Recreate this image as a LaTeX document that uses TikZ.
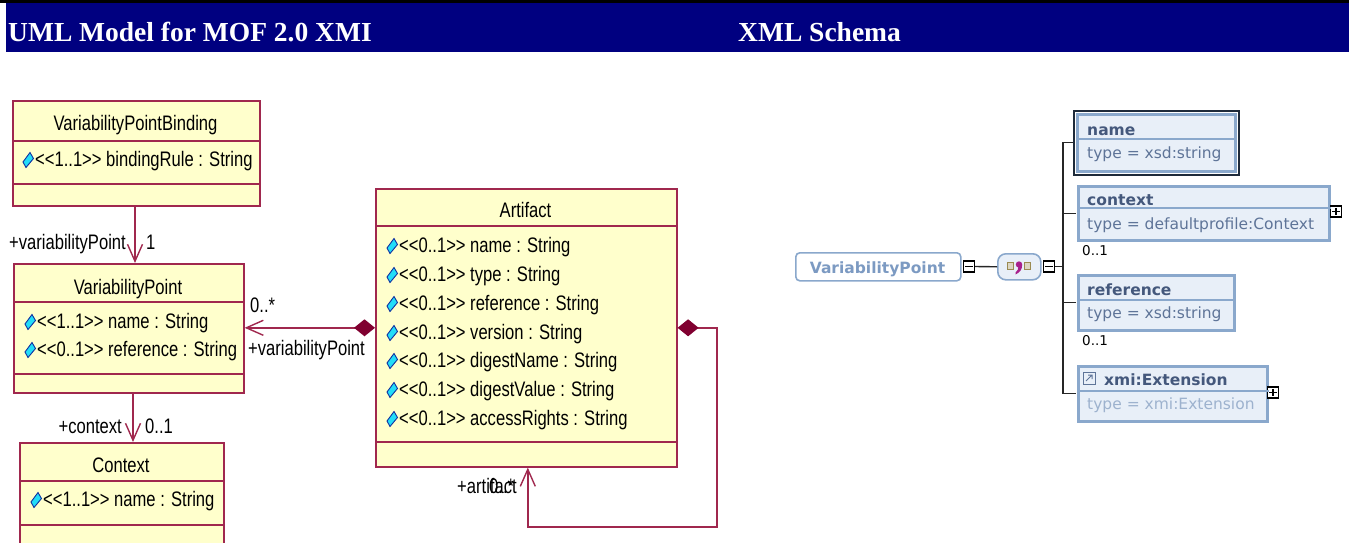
\documentclass[tikz,border=0pt]{standalone}
\usepackage{fontspec}
\usetikzlibrary{arrows.meta}
\newfontfamily\umlf[FakeStretch=0.79]{Liberation Sans}
\newfontfamily\hdrf{Liberation Serif}
\newfontfamily\xsdf{DejaVu Sans}
\definecolor{navyhdr}{HTML}{000080}
\definecolor{umlfill}{HTML}{FFFFCC}
\definecolor{umlline}{HTML}{A0284E}
\definecolor{umldia}{HTML}{800030}
\definecolor{icofill}{HTML}{22DDF8}
\definecolor{icoline}{HTML}{1030A0}
\definecolor{xsdline}{HTML}{8AA8CC}
\definecolor{xsdfill}{HTML}{E8EFF8}
\definecolor{xsddark}{HTML}{1E2A3A}
\definecolor{xsdtext}{HTML}{44587C}
\definecolor{xsdtype}{HTML}{5E7498}
\definecolor{xsdlight}{HTML}{9DB2CE}
\definecolor{vptext}{HTML}{7C9AC2}
\definecolor{seqolive}{HTML}{9A8A50}
\definecolor{seqmag}{HTML}{A8208C}
\tikzset{
  classbox/.style={draw=umlline, fill=umlfill, line width=1.6pt, anchor=north west, inner sep=0pt},
  utext/.style={font=\umlf\fontsize{21}{24}\selectfont, text=black, inner sep=0pt, anchor=base},
  uattr/.style={utext, anchor=base west},
  udiv/.style={draw=umlline, line width=1.6pt},
  uconn/.style={draw=umlline, line width=1.4pt},
  barb/.tip={Straight Barb[length=17pt,width=15pt,line width=1.4pt]},
  cdia/.tip={Diamond[length=21pt,width=17pt,fill=umldia,color=umldia]},
  attricon/.pic={\filldraw[fill=icofill, draw=icoline, line width=0.9pt] (-5,1.5) -- (2,-8) -- (5.5,-2) -- (-2,7) -- cycle;},
  xbox/.style={draw=xsdline, fill=xsdfill, line width=2.5pt, anchor=north west, inner sep=0pt},
  xdiv/.style={draw=xsdline, line width=1.5pt},
  xtitle/.style={font=\xsdf\bfseries\fontsize{15.5}{18}\selectfont, text=xsdtext, inner sep=0pt, anchor=base west},
  xtype/.style={font=\xsdf\fontsize{15.5}{18}\selectfont, text=xsdtype, inner sep=0pt, anchor=base west},
  xmult/.style={font=\xsdf\fontsize{13.5}{16}\selectfont, text=black, inner sep=0pt, anchor=base west},
  xconn/.style={draw=black!85, line width=1.4pt},
  pmbox/.style={draw=black, fill=white, line width=1.1pt, minimum size=11pt, inner sep=0pt},
  hdr/.style={font=\hdrf\bfseries\fontsize{27.5}{30}\selectfont, text=white, inner sep=0pt, anchor=base west}
}
\newcommand\uattrrow[3]{\node[uattr] (#1) at (#2) {#3}; \pic at ([shift={(-7,-5.5)}]#1.base west) {attricon};}
\begin{document}
\begin{tikzpicture}[x=1pt,y=-1pt]
\useasboundingbox (0,0) rectangle (1354,543);
\clip (0,0) rectangle (1354,543);
% header
\fill[black] (0,0.5) rectangle (1349,3.5);
\fill[navyhdr] (6,3.5) rectangle (1349,52);
\node[hdr] (h1) at (8,42) {UML Model for MOF 2.0 XMI};
\node[hdr] (h2) at (738,42) {XML Schema};

% ===== UML =====
\node[classbox, minimum width=247pt, minimum height=105pt] (vpb) at (12,100) {};
\node[classbox, minimum width=230pt, minimum height=129pt] (vp) at (13,263) {};
\node[classbox, minimum width=204pt, minimum height=130pt] (ctx) at (19,442) {};
\node[classbox, minimum width=301pt, minimum height=278pt] (art) at (375,188) {};

\draw[uconn, -barb] (vpb.south -| 135,0) -- (vp.north -| 135,0);
\draw[uconn, -barb] (vp.south -| 133,0) -- (ctx.north -| 133,0);
\draw[uconn, barb-cdia] (vp.east |- art.west) -- (art.west);
\coordinate (sa1) at (717,527);
\draw[uconn, cdia-barb] (art.east) -| (sa1) -| ([xshift=1.5pt]art.south);

% VariabilityPointBinding
\draw[udiv] (vpb.west |- 0,141) -- (vpb.east |- 0,141);
\draw[udiv] (vpb.west |- 0,184) -- (vpb.east |- 0,184);
\node[utext] (vpbt) at (135.5,130) {VariabilityPointBinding};
\uattrrow{vpba}{35,166}{{<}{<}1..1{>}{>} bindingRule : String}

% VariabilityPoint
\draw[udiv] (vp.west |- 0,302) -- (vp.east |- 0,302);
\draw[udiv] (vp.west |- 0,374) -- (vp.east |- 0,374);
\node[utext] (vpt) at (128,294) {VariabilityPoint};
\uattrrow{vpa1}{37,328}{{<}{<}1..1{>}{>} name : String}
\uattrrow{vpa2}{37,356}{{<}{<}0..1{>}{>} reference : String}

% Context
\draw[udiv] (ctx.west |- 0,481) -- (ctx.east |- 0,481);
\draw[udiv] (ctx.west |- 0,525) -- (ctx.east |- 0,525);
\node[utext] (ctxt) at (121,472) {Context};
\uattrrow{ctxa}{43,506}{{<}{<}1..1{>}{>} name : String}

% Artifact
\draw[udiv] (art.west |- 0,226) -- (art.east |- 0,226);
\draw[udiv] (art.west |- 0,442) -- (art.east |- 0,442);
\node[utext] (artt) at (525.5,217) {Artifact};
\uattrrow{arta1}{399,252}{{<}{<}0..1{>}{>} name : String}
\uattrrow{arta2}{399,281}{{<}{<}0..1{>}{>} type : String}
\uattrrow{arta3}{399,310}{{<}{<}0..1{>}{>} reference : String}
\uattrrow{arta4}{399,339}{{<}{<}0..1{>}{>} version : String}
\uattrrow{arta5}{399,367}{{<}{<}0..1{>}{>} digestName : String}
\uattrrow{arta6}{399,396}{{<}{<}0..1{>}{>} digestValue : String}
\uattrrow{arta7}{399,425}{{<}{<}0..1{>}{>} accessRights : String}

% association labels
\node[utext, anchor=base east] (l1) at (126,249) {+variabilityPoint};
\node[utext, anchor=base west] (l2) at (146,249) {1};
\node[utext, anchor=base east] (l3) at (122,433) {+context};
\node[utext, anchor=base west] (l4) at (145,433) {0..1};
\node[utext, anchor=base west] (l5) at (250,312) {0..*};
\node[utext, anchor=base west] (l6) at (248,355) {+variabilityPoint};
\node[utext, anchor=base west] (l7) at (457,493) {+artifact};
\node[utext, anchor=base west] (l8) at (489,493) {0..*};

% ===== XML Schema =====
\node[draw=xsdline, fill=white, line width=1.6pt, rounded corners=4pt, minimum width=165pt, minimum height=28pt, anchor=north west, inner sep=0pt] (xvp) at (795,252) {};
\node[font=\xsdf\bfseries\fontsize{15.5}{18}\selectfont, text=vptext, inner sep=0pt, anchor=base] (xvpt) at (877.5,273) {VariabilityPoint};
\node[pmbox] (m1) at (969,266.5) {};
\node[draw=xsdline, fill=xsdfill, line width=1.6pt, rounded corners=8pt, minimum width=43pt, minimum height=26pt, anchor=north west, inner sep=0pt] (seq) at (997,253) {};
\node[pmbox] (m2) at (1049,266.5) {};
\coordinate (trunk) at (1063,266.5);

\node[xbox, minimum width=158pt, minimum height=57pt] (xname) at (1076,113) {};
\node[xbox, minimum width=251pt, minimum height=54pt] (xctx) at (1077,185) {};
\node[xbox, minimum width=156pt, minimum height=55pt] (xref) at (1077,274) {};
\node[xbox, minimum width=189pt, minimum height=55pt] (xext) at (1077,365) {};

\draw[xconn] (m1.east) -- (seq.west);
\draw[xconn] (m2.east) -- (trunk);
\draw[xconn] ([xshift=-1pt]xname.west) -| (trunk) |- ([xshift=-1pt]xext.west);
\draw[xconn] ([xshift=-1pt]xctx.west) -- (xctx.west -| trunk);
\draw[xconn] ([xshift=-1pt]xref.west) -- (xref.west -| trunk);

% minus / plus glyphs
\draw[line width=1.1pt] ([xshift=2.5pt]m1.west) -- ([xshift=-2.5pt]m1.east);
\draw[line width=1.1pt] ([xshift=2.5pt]m2.west) -- ([xshift=-2.5pt]m2.east);
\node[pmbox] (p1) at (1336,211.5) {};
\draw[line width=1.1pt] ([xshift=2.5pt]p1.west) -- ([xshift=-2.5pt]p1.east);
\draw[line width=1.1pt] ([yshift=-2.5pt]p1.north) -- ([yshift=2.5pt]p1.south);
\node[pmbox] (p2) at (1273,392.5) {};
\draw[line width=1.1pt] ([xshift=2.5pt]p2.west) -- ([xshift=-2.5pt]p2.east);
\draw[line width=1.1pt] ([yshift=-2.5pt]p2.north) -- ([yshift=2.5pt]p2.south);

% sequence symbol
\filldraw[draw=seqolive, fill=seqolive!35, line width=1pt] (1007.5,262.5) rectangle (1013.5,269.5);
\filldraw[draw=seqolive, fill=seqolive!35, line width=1pt] (1024,262.5) rectangle (1030,269.5);
\fill[seqmag] (1019,264.5) circle (3.2pt);
\fill[seqmag] (1022.2,264.5) .. controls (1022.2,270) and (1019.5,272.5) .. (1015.5,274.5) -- (1015.5,272.5) .. controls (1017.5,271) and (1018.5,269) .. (1018.5,266) -- cycle;

% name box (selected)
\draw[xsddark, line width=2pt] ([shift={(-2,-2)}]xname.north west) rectangle ([shift={(2,2)}]xname.south east);
\draw[xdiv] (xname.west |- 0,139) -- (xname.east |- 0,139);
\node[xtitle] (xnt) at (1087,135) {name};
\node[xtype] (xny) at (1087,158) {type = xsd:string};

\draw[xdiv] (xctx.west |- 0,208) -- (xctx.east |- 0,208);
\node[xtitle] (xct) at (1087,205) {context};
\node[xtype] (xcy) at (1087,229) {type = defaultprofile:Context};
\node[xmult] (xcm) at (1082,255) {0..1};

\draw[xdiv] (xref.west |- 0,300) -- (xref.east |- 0,300);
\node[xtitle] (xrt) at (1087,295) {reference};
\node[xtype] (xry) at (1087,318) {type = xsd:string};
\node[xmult] (xrm) at (1082,345) {0..1};

\draw[xdiv] (xext.west |- 0,391) -- (xext.east |- 0,391);
\draw[xsdtype, line width=1pt] (1083,372) rectangle (1095,384);
\draw[xsdtype, line width=1pt] (1086,381) -- (1092,375) (1088,375) -- (1092,375) -- (1092,379);
\node[xtitle] (xet) at (1104,385) {xmi:Extension};
\node[xtype, text=xsdlight] (xey) at (1087,409) {type = xmi:Extension};
\end{tikzpicture}
\end{document}
